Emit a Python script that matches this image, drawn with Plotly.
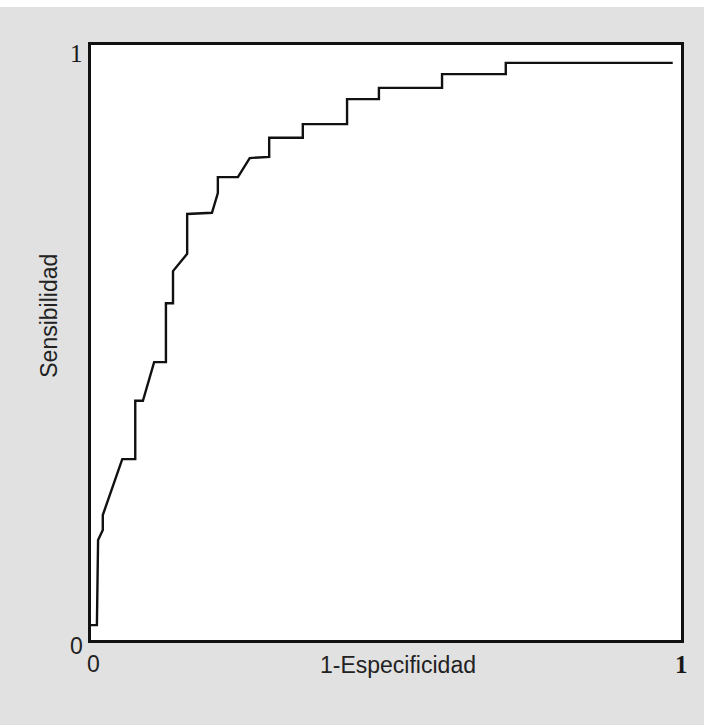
import plotly.graph_objects as go

# ROC curve vertices (1-Especificidad, Sensibilidad)
fpr = [0.000, 0.010, 0.012, 0.020, 0.020, 0.053, 0.075, 0.075, 0.088, 0.107,
       0.127, 0.127, 0.139, 0.139, 0.163, 0.163, 0.205, 0.215, 0.215, 0.249,
       0.269, 0.302, 0.302, 0.359, 0.359, 0.434, 0.434, 0.488, 0.488, 0.595,
       0.595, 0.703, 0.703, 0.986]
tpr = [0.025, 0.025, 0.168, 0.185, 0.210, 0.304, 0.304, 0.402, 0.402, 0.467,
       0.467, 0.566, 0.566, 0.620, 0.649, 0.716, 0.718, 0.751, 0.778, 0.778,
       0.810, 0.812, 0.844, 0.844, 0.867, 0.867, 0.909, 0.909, 0.928, 0.928,
       0.951, 0.951, 0.970, 0.970]

tick_vals = [0, 1]
tick_text = ["0", "1"]
x_title = "1-Especificidad"
y_title = "Sensibilidad"

def tick_font(v, bold=False):
    if v == 1:
        return dict(family="Liberation Serif", size=25, color="#1a1a1a")
    return dict(family="Liberation Sans", size=23, color="#222")

fig = go.Figure()
fig.add_trace(go.Scatter(x=fpr, y=tpr, mode="lines",
                         line=dict(color="#111111", width=2.4),
                         hoverinfo="skip", showlegend=False))

annotations = []
# y tick labels
for v, t in zip(tick_vals, tick_text):
    annotations.append(dict(x=0, y=v, xref="paper", yref="y", text=t,
                            showarrow=False, xanchor="right", yanchor="middle",
                            xshift=-6, yshift=(-6 if v == 0 else -8),
                            font=tick_font(v)))
# x tick labels
for v, t in zip(tick_vals, tick_text):
    annotations.append(dict(x=v, y=0, xref="x", yref="paper",
                            text=(t if v == 0 else "<b>" + t + "</b>"),
                            showarrow=False, xanchor="center", yanchor="middle",
                            yshift=-24, xshift=(2 if v == 0 else 0),
                            font=tick_font(v)))
annotations.append(dict(x=0.52, y=0, xref="paper", yref="paper", text=x_title,
                        showarrow=False, xanchor="center", yanchor="middle",
                        yshift=-25,
                        font=dict(family="Liberation Sans", size=23, color="#222")))
annotations.append(dict(x=0, y=0.545, xref="paper", yref="paper", text=y_title,
                        showarrow=False, xanchor="center", yanchor="middle",
                        xshift=-42, textangle=-90,
                        font=dict(family="Liberation Sans", size=23, color="#222")))

fig.update_layout(
    width=704, height=725,
    margin=dict(l=91, r=23, t=45, b=85),
    paper_bgcolor="#e1e1e1",
    plot_bgcolor="white",
    annotations=annotations,
    shapes=[dict(type="rect", xref="paper", yref="paper",
                 x0=-0.2, x1=1.1, y0=1.064, y1=1.09,
                 fillcolor="white", line=dict(width=0), layer="below")],
)
fig.update_xaxes(range=[0, 1], showgrid=False, zeroline=False, showticklabels=False,
                 ticks="", showline=True, mirror=True, linecolor="#111", linewidth=2.5)
fig.update_yaxes(range=[0, 1], showgrid=False, zeroline=False, showticklabels=False,
                 ticks="", showline=True, mirror=True, linecolor="#111", linewidth=2.5)

fig.write_html("out.html")
